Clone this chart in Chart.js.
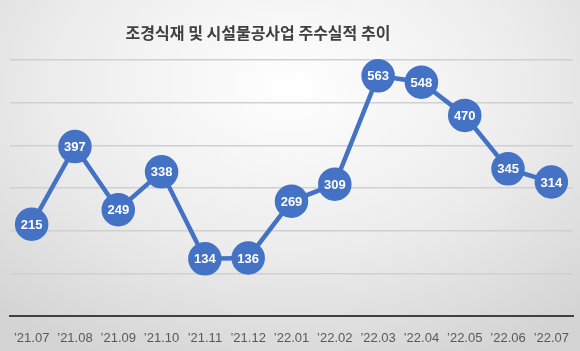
<!DOCTYPE html>
<html>
<head>
  <title>조경식재 및 시설물공사업 주수실적 추이</title>
  <script src="https://cdn.jsdelivr.net/npm/chart.js"></script>
  <style>
    body {
      margin: 0;
      width: 580px;
      height: 351px;
      overflow: hidden;
      background: radial-gradient(ellipse 75% 85% at 50% 25%, #ffffff 0%, #ececec 55%, #d4d4d4 100%);
    }
    canvas {
      display: block;
    }
  </style>
</head>
<body>
  <canvas id="trendChart" width="580" height="351"></canvas>

  <script>
    const chartTitle = '조경식재 및 시설물공사업 주수실적 추이';
    const months = ['’21.07', '’21.08', '’21.09', '’21.10', '’21.11', '’21.12', '’22.01',
                    '’22.02', '’22.03', '’22.04', '’22.05', '’22.06', '’22.07'];
    const counts = [215, 397, 249, 338, 134, 136, 269, 309, 563, 548, 470, 345, 314];
    const yMin = 0;
    const yMax = 600;
    const yStep = 100;

    // title (sits a bit left of centre in the original) + numbers inside markers
    const pointLabels = {
      id: 'pointLabels',
      afterDatasetsDraw(chart) {
        const ctx = chart.ctx;
        const meta = chart.getDatasetMeta(0);
        ctx.save();
        ctx.textAlign = 'center';
        ctx.textBaseline = 'middle';

        ctx.fillStyle = '#404040';
        ctx.font = 'bold 16px "Noto Sans CJK KR", sans-serif';
        ctx.fillText(chartTitle, 258, 33);

        ctx.fillStyle = '#ffffff';
        ctx.font = 'bold 13px "Liberation Sans", Arial, sans-serif';
        meta.data.forEach((pt, i) => {
          ctx.fillText(String(counts[i]), pt.x, pt.y + 1);
        });
        ctx.restore();
      }
    };

    const ctx = document.getElementById('trendChart').getContext('2d');
    new Chart(ctx, {
      type: 'line',
      data: {
        labels: months,
        datasets: [{
          data: counts,
          borderColor: '#4472c4',
          borderWidth: 4.5,
          pointBackgroundColor: '#4472c4',
          pointBorderColor: '#4472c4',
          pointRadius: 14.5,
          pointHoverRadius: 14.5,
          tension: 0,
          fill: false,
          clip: false
        }]
      },
      options: {
        responsive: false,
        animation: false,
        layout: { autoPadding: false, padding: { left: 10, right: 7, top: 60, bottom: 0 } },
        plugins: {
          legend: { display: false },
          tooltip: { enabled: false },
          title: { display: false }
        },
        scales: {
          x: {
            offset: true,
            grid: { display: false, drawTicks: true, tickLength: 15 },
            border: { display: true, color: '#404040', width: 2 },
            ticks: {
              color: '#595959',
              padding: 0,
              maxRotation: 0,
              autoSkip: false,
              font: { family: '"Liberation Sans", Arial, sans-serif', size: 13 }
            },
            afterFit(scale) {
              scale.height = 35;
            }
          },
          y: {
            min: yMin,
            max: yMax,
            ticks: { display: false, stepSize: yStep, padding: 0 },
            border: { display: false },
            grid: {
              drawTicks: false,
              color: (c) => c.tick.value === 0 ? 'rgba(0,0,0,0)' : '#d0d0d0',
              lineWidth: 1.5
            },
            afterFit(scale) {
              scale.width = 0;
            }
          }
        }
      },
      plugins: [pointLabels]
    });
  </script>
</body>
</html>
